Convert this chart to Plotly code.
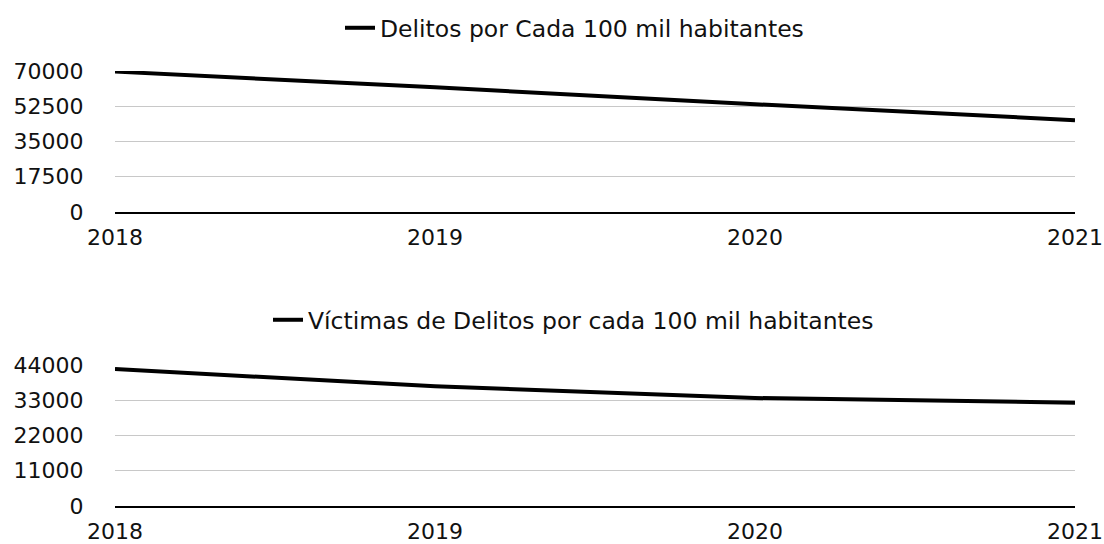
import plotly.graph_objects as go

years = [2018, 2019, 2020, 2021]
delitos = [69700, 61900, 53500, 45600]
victimas = [42750, 37350, 33700, 32250]

name_top = "Delitos por Cada 100 mil habitantes"
name_bot = "Víctimas de Delitos por cada 100 mil habitantes"

top_ticks = [0, 17500, 35000, 52500, 70000]
bot_ticks = [0, 11000, 22000, 33000, 44000]

W, H = 1104, 544
FONT = "DejaVu Sans, Arial, sans-serif"
FS = 22
LFS = 23.5

def px_x(v):
    return v / W

def px_y(v):
    return 1 - v / H

fig = go.Figure()
fig.add_trace(go.Scatter(x=years, y=delitos, mode="lines", name=name_top,
                         line=dict(color="black", width=4), xaxis="x", yaxis="y",
                         legend="legend", cliponaxis=False))
fig.add_trace(go.Scatter(x=years, y=victimas, mode="lines", name=name_bot,
                         line=dict(color="black", width=4), xaxis="x2", yaxis="y2",
                         legend="legend2", cliponaxis=False))

xdom = [px_x(115), px_x(1075)]
ydom_top = [px_y(212), px_y(71)]
ydom_bot = [px_y(506), px_y(365)]

xcommon = dict(range=[2018, 2021], tickvals=years, tickformat="d", showgrid=False,
               showline=True, linecolor="black", linewidth=2, zeroline=False,
               ticks="outside", ticklen=5, tickcolor="rgba(0,0,0,0)",
               tickfont=dict(size=FS, color="#111"), domain=xdom, automargin=False,
               fixedrange=True)
ycommon = dict(showgrid=True, gridcolor="#c8c8c8", gridwidth=1, zeroline=False,
               showline=False, ticks="outside", ticklen=26, tickcolor="rgba(0,0,0,0)",
               tickfont=dict(size=FS, color="#111"), tickformat="d", automargin=False,
               fixedrange=True)

fig.update_layout(
    width=W, height=H,
    margin=dict(l=0, r=0, t=0, b=0, autoexpand=False),
    paper_bgcolor="white", plot_bgcolor="white",
    font=dict(family=FONT, color="#111"),
    xaxis=dict(**xcommon, anchor="y"),
    yaxis=dict(**ycommon, domain=ydom_top, range=[0, 70000], tickvals=top_ticks, anchor="x"),
    xaxis2=dict(**xcommon, anchor="y2"),
    yaxis2=dict(**ycommon, domain=ydom_bot, range=[0, 44000], tickvals=bot_ticks, anchor="x2"),
    legend=dict(x=px_x(340), xanchor="left", y=px_y(28), yanchor="middle",
                orientation="h", font=dict(size=LFS, color="#111"), bgcolor="rgba(0,0,0,0)"),
    legend2=dict(x=px_x(268), xanchor="left", y=px_y(320), yanchor="middle",
                 orientation="h", font=dict(size=LFS, color="#111"), bgcolor="rgba(0,0,0,0)"),
    showlegend=True,
)

fig.write_html("out.html", config={"displayModeBar": False},
               post_script="document.body.style.margin='0';document.body.style.overflow='hidden';")
